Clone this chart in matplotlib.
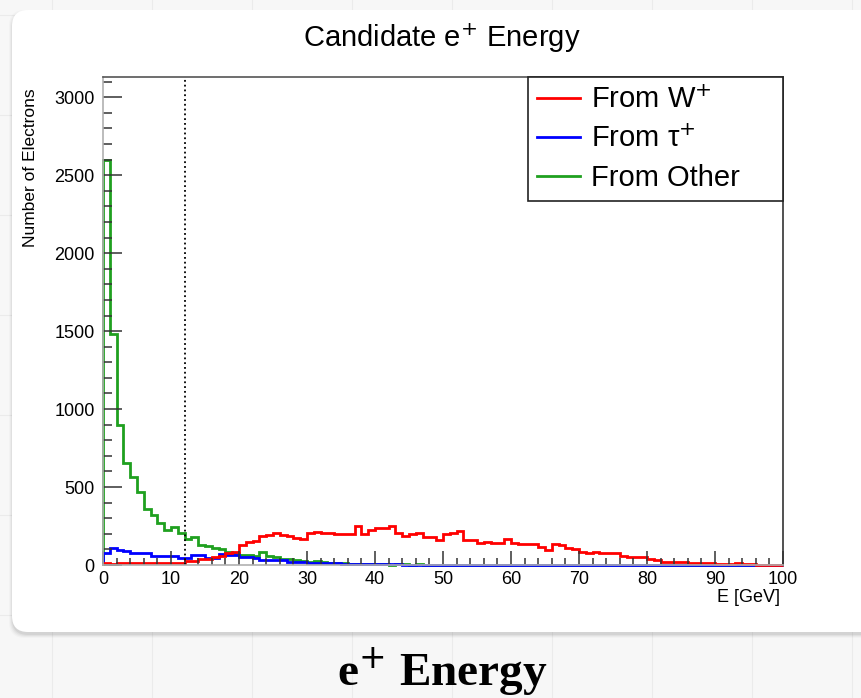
import numpy as np
import matplotlib.pyplot as plt
from matplotlib.patches import FancyBboxPatch
from matplotlib.transforms import IdentityTransform
from matplotlib.lines import Line2D
from matplotlib.ticker import MultipleLocator

plt.rcParams['font.family'] = ['Liberation Sans', 'DejaVu Sans']

# ── HISTOGRAM CONTENTS (1 GeV bins, 0-100 GeV) ───────────────
bin_edges = np.arange(0, 101, 1)

from_w = [10, 9, 11, 10, 12, 10, 11, 12, 10, 11,
          12, 12, 24, 28, 36, 40, 52, 55, 76, 85,
          128, 150, 155, 185, 195, 205, 195, 188, 172, 168,
          205, 213, 205, 208, 198, 196, 198, 250, 200, 222,
          235, 236, 250, 205, 188, 200, 203, 182, 180, 160,
          200, 203, 215, 162, 160, 143, 145, 142, 140, 165,
          138, 137, 136, 135, 118, 98, 132, 130, 108, 105,
          82, 80, 81, 80, 79, 78, 55, 53, 52, 50,
          38, 30, 22, 21, 20, 22, 12, 11, 10, 10,
          8, 9, 6, 10, 5, 4, 3, 2, 2, 1]

from_tau = [75, 108, 95, 90, 78, 76, 74, 60, 58, 58,
            57, 48, 46, 62, 62, 48, 46, 68, 66, 65,
            52, 50, 48, 34, 32, 30, 31, 20, 18, 17,
            15, 14, 12, 10, 11, 9, 8, 8, 7, 6,
            5, 5, 4, 4, 3, 3, 3, 2, 2, 2,
            2, 1, 1, 1, 1, 0, 1, 0, 0, 1,
            0, 0, 0, 1, 0, 0, 0, 0, 0, 0,
            0, 0, 0, 0, 0, 0, 0, 0, 0, 0,
            0, 0, 0, 0, 0, 0, 0, 0, 0, 0,
            0, 0, 0, 0, 0, 0, 0, 0, 0, 0]

from_other = [2600, 1480, 900, 655, 565, 470, 360, 320, 270, 225,
              245, 205, 165, 180, 130, 120, 110, 100, 85, 80,
              65, 62, 60, 82, 55, 50, 40, 38, 30, 26,
              22, 25, 18, 14, 12, 10, 8, 6, 9, 5,
              4, 6, 3, 5, 4, 2, 5, 3, 2, 2,
              1, 2, 1, 1, 0, 1, 0, 0, 1, 0,
              0, 0, 1, 0, 0, 0, 0, 0, 0, 0,
              0, 0, 0, 0, 0, 0, 0, 0, 0, 0,
              0, 0, 0, 0, 0, 0, 0, 0, 0, 0,
              0, 0, 0, 0, 0, 0, 0, 0, 0, 0]

series_labels = ['From W$^{+}$', 'From τ$^{+}$', 'From Other']
series_colors = ['#ff0000', '#0000ff', '#1fa01f']
energy_cut = 12

W, H = 862, 698
fig = plt.figure(figsize=(W / 100, H / 100), dpi=100, facecolor='#f7f7f7')
px = IdentityTransform()

# page grid behind the card
for gx in range(52, W, 100):
    fig.add_artist(Line2D([gx, gx], [0, H], transform=px, color='#ebebeb',
                          lw=0.8, zorder=-10))
for gy in range(15, H, 100):
    fig.add_artist(Line2D([0, W], [H - gy, H - gy], transform=px, color='#ebebeb',
                          lw=0.8, zorder=-10))

# card with soft shadow
for k, a in enumerate([0.05, 0.04, 0.03, 0.02]):
    fig.add_artist(FancyBboxPatch((12 - k, H - 632 - 3 - k), 900 + 2 * k, 622 + 2 * k,
                                  boxstyle='round,pad=0,rounding_size=16',
                                  transform=px, fc='black', ec='none', alpha=a,
                                  zorder=-9))
fig.add_artist(FancyBboxPatch((12, H - 632), 900, 622,
                              boxstyle='round,pad=0,rounding_size=16',
                              transform=px, fc='white', ec='none', zorder=-8))

ax = fig.add_axes([103 / W, 1 - 565 / H, 680 / W, 488 / H])
ax.set_facecolor('none')

for vals, lab, col in zip([from_w, from_tau, from_other][::-1],
                          series_labels[::-1], series_colors[::-1]):
    ax.stairs(vals, bin_edges, color=col, lw=2.0, label=lab, clip_on=False)

ax.axvline(energy_cut, color='black', ls=':', lw=1.3)

ax.set_xlim(0, 100)
ax.set_ylim(0, 3130)
ax.xaxis.set_major_locator(MultipleLocator(10))
ax.xaxis.set_minor_locator(MultipleLocator(2))
ax.yaxis.set_major_locator(MultipleLocator(500))
ax.yaxis.set_minor_locator(MultipleLocator(100))
ax.tick_params(axis='x', which='major', direction='in', length=10, width=1.1,
               color='#333333', labelsize=13, pad=4)
ax.tick_params(axis='x', which='minor', direction='in', length=5, width=1.1, color='#333333')
ax.tick_params(axis='y', which='major', direction='in', length=14, width=1.1,
               color='#333333', labelsize=13, pad=6)
ax.tick_params(axis='y', which='minor', direction='in', length=6.5, width=1.1, color='#333333')

ax.spines['left'].set_color('#b0b0b0')
ax.spines['bottom'].set_color('#b0b0b0')
ax.spines['top'].set_color('#555555')
ax.spines['right'].set_color('#333333')
for s in ax.spines.values():
    s.set_linewidth(1.2)

ax.set_xlabel('E [GeV]', fontsize=13, loc='right')
ax.xaxis.set_label_coords(0.9956, -0.0656)
ax.xaxis.label.set_va('center')
ax.set_ylabel('Number of Electrons', fontsize=12.5, loc='top')
ax.yaxis.set_label_coords(-0.107, 0.977)
ax.yaxis.label.set_va('center')

handles = [Line2D([], [], color=c, lw=2.0) for c in series_colors]
leg = ax.legend(handles, series_labels, loc='upper right',
                bbox_to_anchor=(0.625, 0, 0.375, 1), mode='expand',
                borderaxespad=0, fancybox=False, framealpha=1,
                edgecolor='#222222', fontsize=21, handlelength=1.5,
                handletextpad=0.35, borderpad=0.3, labelspacing=0.38)
leg.get_frame().set_linewidth(1.2)

fig.text(442 / W, 1 - 38 / H, 'Candidate e$^{+}$ Energy', fontsize=21,
         ha='center', va='center')

fig.text(442 / W, 1 - 686 / H, 'e$^{+}$ Energy', fontsize=34, fontweight='bold',
         family=['Liberation Serif', 'DejaVu Serif'], ha='center', va='baseline')

fig.savefig('out.png', dpi=100, facecolor=fig.get_facecolor())
